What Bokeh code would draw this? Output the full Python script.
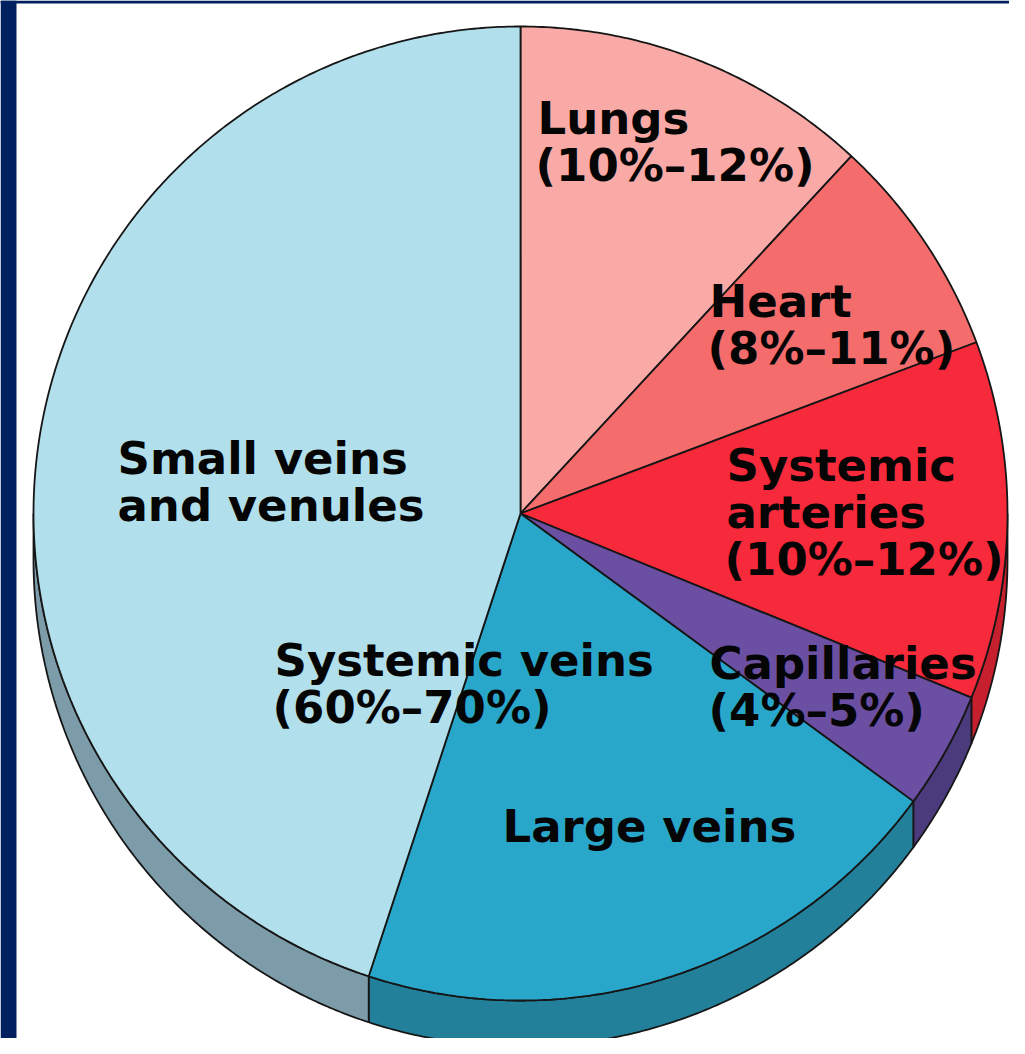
import numpy as np
from bokeh.plotting import figure
from bokeh.models import Range1d, ColumnDataSource
from bokeh.core.properties import value
from bokeh.embed import file_html
from bokeh.resources import INLINE

# ---------------- data ----------------
categories = ["Lungs", "Heart", "Systemic arteries", "Capillaries",
              "Large veins", "Small veins and venules"]
shares = [11.9, 7.4, 11.9, 3.9, 20.0, 45.0]          # percent of blood volume
label_lines = [
    ["Lungs", "(10%\u201312%)"],
    ["Heart", "(8%\u201311%)"],
    ["Systemic", "arteries", "(10%\u201312%)"],
    ["Capillaries", "(4%\u20135%)"],
    ["Large veins"],
    ["Small veins", "and venules"],
]
group_label = ["Systemic veins", "(60%\u201370%)"]

# ---------------- styles / layout ----------------
W, H = 1009, 1038
top_colors = ["#F9AAA6", "#F46C6C", "#F62A3B", "#6A4FA2", "#29A7CB", "#B1DFEC"]
side_colors = ["#C98885", "#C45555", "#C6202E", "#4B3A7C", "#23809A", "#7C9CA9"]
CX, CY, R, DEPTH = 520.0, 513.0, 487.0, 46.0
label_pos = [
    [(537, 135), (535, 182)],
    [(709, 318), (707, 365)],
    [(726, 482), (726, 529), (724, 576)],
    [(709, 680), (708, 727)],
    [(502, 843)],
    [(117, 475), (117, 522)],
]
group_pos = [(274, 677), (272, 724)]
BASELINE_FIX = 17
EDGE = "#161616"

frac = np.array(shares) / np.sum(shares)
ends = np.cumsum(frac) * 360.0
starts = ends - frac * 360.0


def arc(a0, a1, dy=0.0):
    n = max(int(abs(a1 - a0) * 2), 2)
    t = np.radians(np.linspace(a0, a1, n))
    return CX + R * np.sin(t), CY - R * np.cos(t) + dy


p = figure(width=W, height=H, x_range=Range1d(0, W), y_range=Range1d(H, 0),
           output_backend="svg", toolbar_location=None, min_border=0,
           x_axis_type=None, y_axis_type=None)
p.grid.visible = False
p.outline_line_color = None
p.background_fill_color = "white"
p.border_fill_color = "white"

# navy frame strips (left and top)
p.quad(left=[0, 0], right=[16, W], top=[0, 0], bottom=[H, 3],
       fill_color="#00205F", line_color=None)

# sides of the 3-D pie
sx, sy, sc = [], [], []
for s, e, c in zip(starts, ends, side_colors):
    lo, hi = max(s, 90.0), min(e, 270.0)
    if lo < hi:
        tx, ty = arc(lo, hi)
        bx, by = arc(hi, lo, DEPTH)
        sx.append(list(tx) + list(bx))
        sy.append(list(ty) + list(by))
        sc.append(c)
p.patches(xs=sx, ys=sy, fill_color=sc, line_color=EDGE, line_width=1.8)

# top faces
wx, wy = [], []
for s, e in zip(starts, ends):
    ax, ay = arc(s, e)
    wx.append([CX] + list(ax))
    wy.append([CY] + list(ay))
p.patches(xs=wx, ys=wy, fill_color=top_colors, line_color=EDGE, line_width=1.8)

# labels
tx, ty, tt = [], [], []
for lines, pos in zip(label_lines + [group_label], label_pos + [group_pos]):
    for line, (x, y) in zip(lines, pos):
        tx.append(x); ty.append(y - BASELINE_FIX); tt.append(line)
src = ColumnDataSource(dict(x=tx, y=ty, text=tt))
p.text(x="x", y="y", text="text", source=src, text_font=value("DejaVu Sans"),
       text_font_style="bold", text_font_size="45px", text_color="#050505",
       text_baseline="alphabetic", text_align="left")

open("out.html", "w").write(file_html(p, INLINE))
